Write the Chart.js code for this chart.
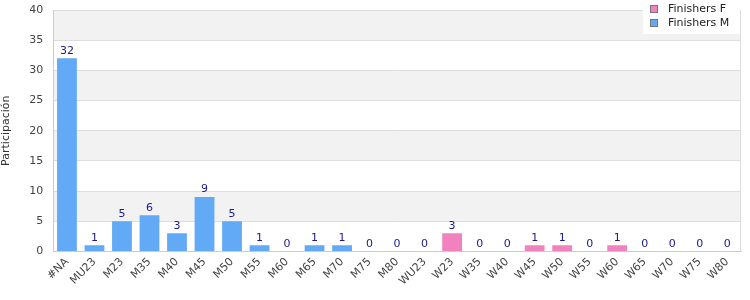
<!DOCTYPE html>
<html>
<head>
<meta charset="utf-8">
<script src="https://cdn.jsdelivr.net/npm/chart.js@4"></script>
<style>
  html, body { margin: 0; padding: 0; background: #fff; }
  #wrap { width: 750px; height: 300px; }
</style>
</head>
<body>
<div id="wrap"><canvas id="partChart"></canvas></div>
<script>
// Categories and values
const categories = ['#NA', 'MU23', 'M23', 'M35', 'M40', 'M45', 'M50', 'M55', 'M60', 'M65', 'M70', 'M75', 'M80',
  'WU23', 'W23', 'W35', 'W40', 'W45', 'W50', 'W55', 'W60', 'W65', 'W70', 'W75', 'W80'];
const finishersF = [0, 0, 0, 0, 0, 0, 0, 0, 0, 0, 0, 0, 0, 0, 3, 0, 0, 1, 1, 0, 1, 0, 0, 0, 0];
const finishersM = [32, 1, 5, 6, 3, 9, 5, 1, 0, 1, 1, 0, 0, 0, 0, 0, 0, 0, 0, 0, 0, 0, 0, 0, 0];
const yTicks = [0, 5, 10, 15, 20, 25, 30, 35, 40];

const pink = '#f282be';
const blue = '#62aaf5';
const font = 'DejaVu Sans';

// grey bands every other interval, plus right frame line
const bandsPlugin = {
  id: 'bands',
  beforeDraw(chart) {
    const { ctx, chartArea, scales } = chart;
    ctx.save();
    ctx.fillStyle = '#f2f2f2';
    for (let i = 1; i < yTicks.length - 1; i += 2) {
      const top = scales.y.getPixelForValue(yTicks[i + 1]);
      const bot = scales.y.getPixelForValue(yTicks[i]);
      ctx.fillRect(chartArea.left, top, chartArea.right - chartArea.left, bot - top);
    }
    ctx.strokeStyle = '#dddddd';
    ctx.lineWidth = 1;
    ctx.beginPath();
    ctx.moveTo(Math.round(chartArea.right) - 0.5, chartArea.top);
    ctx.lineTo(Math.round(chartArea.right) - 0.5, chartArea.bottom);
    ctx.stroke();
    ctx.restore();
  }
};

// totals above each stack + legend box
const labelsPlugin = {
  id: 'totals',
  afterDatasetsDraw(chart) {
    const { ctx, scales } = chart;
    ctx.save();
    ctx.font = '11px "' + font + '"';
    ctx.fillStyle = '#1a1a8a';
    ctx.textAlign = 'center';
    ctx.textBaseline = 'bottom';
    categories.forEach((c, i) => {
      const total = finishersF[i] + finishersM[i];
      const x = scales.x.getPixelForValue(i);
      const y = scales.y.getPixelForValue(total);
      ctx.fillText(String(total), x, y - 2);
    });
    ctx.restore();
  },
  afterDraw(chart) {
    const { ctx } = chart;
    const items = [['Finishers F', pink], ['Finishers M', blue]];
    ctx.save();
    ctx.fillStyle = '#fff';
    ctx.fillRect(643, 0, 97, 34);
    ctx.font = '11px "' + font + '"';
    ctx.textBaseline = 'middle';
    ctx.textAlign = 'left';
    items.forEach((it, k) => {
      const y = 9 + k * 14;
      ctx.fillStyle = it[1];
      ctx.fillRect(650.5, y - 3.5, 7, 7);
      ctx.strokeStyle = '#777';
      ctx.lineWidth = 1;
      ctx.strokeRect(650.5, y - 3.5, 7, 7);
      ctx.fillStyle = '#222';
      ctx.fillText(it[0], 668, y);
    });
    ctx.restore();
  }
};

const ctx = document.getElementById('partChart').getContext('2d');
const partChart = new Chart(ctx, {
  type: 'bar',
  data: {
    labels: categories,
    datasets: [{
      label: 'Finishers F',
      data: finishersF,
      backgroundColor: pink,
      borderWidth: 0
    },
    {
      label: 'Finishers M',
      data: finishersM,
      backgroundColor: blue,
      borderWidth: 0
    }]
  },
  options: {
    responsive: true,
    maintainAspectRatio: false,
    animation: false,
    layout: { padding: { top: 10, right: 9, bottom: 8, left: 0 } },
    datasets: { bar: { categoryPercentage: 0.72, barPercentage: 1 } },
    plugins: {
      legend: { display: false },
      tooltip: { enabled: false }
    },
    scales: {
      x: {
        stacked: true,
        grid: { display: false, drawTicks: false },
        border: { display: true, color: '#cccccc' },
        ticks: {
          color: '#444',
          font: { family: font, size: 11 },
          minRotation: 45,
          maxRotation: 45,
          padding: 4,
          autoSkip: false
        }
      },
      y: {
        stacked: true,
        min: 0,
        max: 40,
        afterFit(scale) { scale.paddingTop = 0; },
        grid: { color: '#dddddd', drawTicks: false },
        border: { display: true, color: '#cccccc' },
        ticks: {
          stepSize: 5,
          color: '#444',
          font: { family: font, size: 11 },
          padding: 10
        },
        title: {
          display: true,
          text: 'Participación',
          color: '#333',
          font: { family: font, size: 11 },
          padding: { top: 0, bottom: 6 }
        }
      }
    }
  },
  plugins: [bandsPlugin, labelsPlugin]
});
</script>
</body>
</html>
